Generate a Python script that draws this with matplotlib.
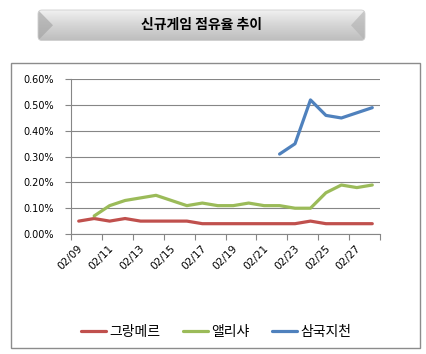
import numpy as np
import matplotlib.pyplot as plt
from matplotlib.patches import Rectangle, Polygon, FancyBboxPatch
from matplotlib.colors import LinearSegmentedColormap

plt.rcParams['font.family'] = ['Noto Sans CJK KR', 'DejaVu Sans']

# data (share, %)
dates = ['02/09', '02/10', '02/11', '02/12', '02/13', '02/14', '02/15', '02/16', '02/17', '02/18',
         '02/19', '02/20', '02/21', '02/22', '02/23', '02/24', '02/25', '02/26', '02/27', '02/28']
grangmere = [0.05, 0.06, 0.05, 0.06, 0.05, 0.05, 0.05, 0.05, 0.04, 0.04,
             0.04, 0.04, 0.04, 0.04, 0.04, 0.05, 0.04, 0.04, 0.04, 0.04]
alicia = [None, 0.07, 0.11, 0.13, 0.14, 0.15, 0.13, 0.11, 0.12, 0.11,
          0.11, 0.12, 0.11, 0.11, 0.10, 0.10, 0.16, 0.19, 0.18, 0.19]
samguk = [None] * 13 + [0.31, 0.35, 0.52, 0.46, 0.45, 0.47, 0.49]
series_names = ['그랑메르', '앨리샤', '삼국지천']
colors = ['#C0504D', '#9BBB59', '#4F81BD']
yticks = [0.0, 0.1, 0.2, 0.3, 0.4, 0.5, 0.6]

W, H = 426, 354
fig = plt.figure(figsize=(W / 100, H / 100), dpi=100)

def fx(x):
    return x / W

def fy(y):
    return 1 - y / H

# outer chart border
fig.patches.append(Rectangle((fx(10.5), fy(347.5)), fx(409), 285 / H, transform=fig.transFigure,
                             fill=False, edgecolor='#8c8c8c', lw=1))

# title box with gradient and bevel
tax = fig.add_axes([fx(37), fy(41.5), fx(329), 32.5 / H])
tax.set_xlim(0, 329)
tax.set_ylim(0, 32.5)
tax.axis('off')
cmap = LinearSegmentedColormap.from_list('bevel', ['#f4f4f4', '#d6d6d6', '#bdbdbd'])
grad = np.linspace(0, 1, 64).reshape(-1, 1)
img = tax.imshow(grad, extent=(0, 329, 0, 32.5), cmap=cmap, aspect='auto', origin='upper')
clip = FancyBboxPatch((1, 1), 327, 30.5, boxstyle='round,pad=0,rounding_size=4',
                      transform=tax.transData, facecolor='none', edgecolor='none')
tax.add_patch(clip)
img.set_clip_path(clip)
tax.add_patch(Polygon([(1, 1), (1, 31.5), (16, 16.25)], closed=True, facecolor='#a0a0a0',
                      edgecolor='none', alpha=0.6, clip_path=clip))
tax.add_patch(Polygon([(328, 1), (328, 31.5), (314, 16.25)], closed=True, facecolor='#b0b0b0',
                      edgecolor='none', alpha=0.6, clip_path=clip))
tax.add_patch(FancyBboxPatch((1, 1), 327, 30.5, boxstyle='round,pad=0,rounding_size=4',
                             facecolor='none', edgecolor='#cfcfcf', lw=0.6))
tax.text(164.5, 16.5, '신규게임 점유율 추이', ha='center', va='center', fontsize=10,
         fontweight='bold', color='black')

# main plot
ax = fig.add_axes([fx(71), fy(234), fx(309), 154.7 / H])
x = np.arange(len(dates))
for vals, name, c in zip([grangmere, alicia, samguk], series_names, colors):
    y = np.array([np.nan if v is None else v for v in vals], dtype=float)
    ax.plot(x, y, color=c, lw=2.3, label=name, solid_capstyle='round', solid_joinstyle='round')

ax.set_xlim(-0.5, len(dates) - 0.5)
ax.set_ylim(0, 0.6)
ax.set_yticks(yticks)
ax.set_yticklabels(['%.2f%%' % v for v in yticks], fontsize=7, family='DejaVu Sans')
ax.yaxis.grid(True, color='#868686', lw=0.8)
ax.set_axisbelow(True)

ax.set_xticks(np.arange(-0.5, len(dates), 2))
ax.set_xticklabels([])
ax.set_xticks(x[::2] + 0.15, minor=True)
ax.set_xticklabels(dates[::2], minor=True, rotation=45, ha='right', va='center',
                   rotation_mode='anchor', fontsize=7.6, family='DejaVu Sans')
ax.tick_params(axis='x', which='major', length=4, color='#868686', direction='out')
ax.tick_params(axis='x', which='minor', length=0, pad=9)
ax.tick_params(axis='y', length=4, color='#868686', pad=8)
for s in ['top', 'right']:
    ax.spines[s].set_visible(False)
for s in ['left', 'bottom']:
    ax.spines[s].set_color('#868686')
    ax.spines[s].set_linewidth(0.8)

fig.legend(loc='center', bbox_to_anchor=(fx(216), fy(332)), ncol=3, frameon=False,
           fontsize=10, handlelength=1.8, columnspacing=1.6, handletextpad=0.25)

fig.savefig('out.png', dpi=100)
